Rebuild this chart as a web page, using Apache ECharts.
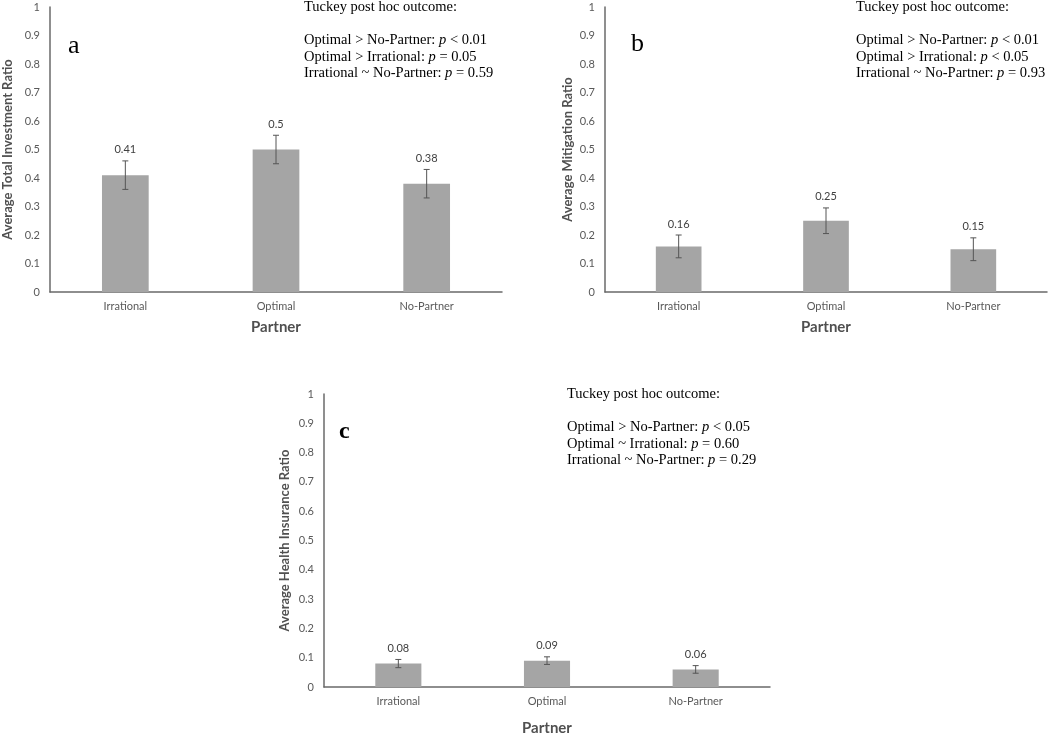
<!DOCTYPE html>
<html><head><meta charset="utf-8">
<script src="https://cdn.jsdelivr.net/npm/echarts@6/dist/echarts.min.js"></script>
<style>html,body{margin:0;padding:0;background:#fff}#c{width:1052px;height:737px}</style>
</head><body><div id="c"></div>
<script>
const categories = ['Irrational', 'Optimal', 'No-Partner'];
const investMeans = [0.41, 0.50, 0.38];
const investErr   = [0.05, 0.05, 0.05];
const mitigMeans  = [0.16, 0.25, 0.15];
const mitigErr    = [0.04, 0.045, 0.04];
const healthMeans = [0.08, 0.09, 0.06];
const healthErr   = [0.014, 0.013, 0.013];
const yTitles = ['Average Total Investment Ratio', 'Average Mitigation Ratio', 'Average Health Insurance Ratio'];
const xTitle = 'Partner';
const panelLetters = ['a', 'b', 'c'];
const notesA = ['Optimal > No-Partner: |p| < 0.01', 'Optimal > Irrational: |p| = 0.05', 'Irrational ~ No-Partner: |p| = 0.59'];
const notesB = ['Optimal > No-Partner: |p| < 0.01', 'Optimal > Irrational: |p| < 0.05', 'Irrational ~ No-Partner: |p| = 0.93'];
const notesC = ['Optimal > No-Partner: |p| < 0.05', 'Optimal ~ Irrational: |p| = 0.60', 'Irrational ~ No-Partner: |p| = 0.29'];
const noteHead = 'Tuckey post hoc outcome:';

const chart = echarts.init(document.getElementById('c'));
const grids = [
  {left: 48, top: 7, width: 454, height: 285},
  {left: 605, top: 7, width: 442, height: 285},
  {left: 324, top: 394, width: 446, height: 299}
];
const xNameGaps = [28, 28, 34];
const yNameGaps = [36, 31, 33];
const sans = 'Lato, "Open Sans", sans-serif';
const serif = '"Liberation Serif", "DejaVu Serif", serif';
const means = [investMeans, mitigMeans, healthMeans];
const errs = [investErr, mitigErr, healthErr];

const xAxes = grids.map((g, i) => ({
  type: 'category', gridIndex: i, data: categories,
  axisLine: {lineStyle: {color: '#6a6a6a', width: 1.5}},
  axisTick: {show: false},
  axisLabel: {color: '#595959', fontSize: 11, fontFamily: sans, margin: 9},
  name: xTitle, nameLocation: 'middle', nameGap: xNameGaps[i],
  nameTextStyle: {color: '#505050', fontSize: 15, fontWeight: 'bold', fontFamily: sans}
}));
const yAxes = grids.map((g, i) => ({
  type: 'value', gridIndex: i, min: 0, max: 1, interval: 0.1,
  axisLine: {show: true, lineStyle: {color: '#6a6a6a', width: 1.5}},
  axisTick: {show: false}, splitLine: {show: false},
  axisLabel: {color: '#595959', fontSize: 11, fontFamily: sans, margin: 10},
  name: yTitles[i], nameLocation: 'middle', nameGap: yNameGaps[i],
  nameTextStyle: {color: '#505050', fontSize: 13, fontWeight: 'bold', fontFamily: sans}
}));

const series = [];
grids.forEach((g, i) => {
  series.push({
    type: 'bar', xAxisIndex: i, yAxisIndex: i, data: means[i],
    barWidth: '31%', itemStyle: {color: '#a5a5a5'}, silent: true
  });
  series.push({
    type: 'custom', xAxisIndex: i, yAxisIndex: i, z: 5,
    data: means[i].map((m, k) => [k, m, m - errs[i][k], m + errs[i][k]]),
    renderItem: function (params, api) {
      const lo = api.coord([api.value(0), api.value(2)]);
      const hi = api.coord([api.value(0), api.value(3)]);
      const x = lo[0];
      const st = {stroke: '#555', lineWidth: 1};
      return {type: 'group', children: [
        {type: 'line', shape: {x1: x, y1: lo[1], x2: x, y2: hi[1]}, style: st},
        {type: 'line', shape: {x1: x - 3, y1: lo[1], x2: x + 3, y2: lo[1]}, style: st},
        {type: 'line', shape: {x1: x - 3, y1: hi[1], x2: x + 3, y2: hi[1]}, style: st},
        {type: 'text', x: x, y: hi[1] - 11, style: {text: String(api.value(1)), fill: '#404040',
          font: '11px ' + sans, align: 'center', verticalAlign: 'middle'}}
      ]};
    }
  });
});

function noteText(lines) {
  return [noteHead, ''].concat(lines.map(l => {
    const p = l.split('|');
    return '{n|' + p[0] + '}{i|' + p[1] + '}{n|' + p[2] + '}';
  })).map(s => s.startsWith('{') ? s : '{n|' + s + '}').join('\n');
}
const rich = {
  n: {fontFamily: serif, fontSize: 14.5, fill: '#000', lineHeight: 16.5},
  i: {fontFamily: serif, fontSize: 14.5, fontStyle: 'italic', fill: '#000', lineHeight: 16.5}
};
const graphic = [
  {type: 'text', left: 304, top: 0, style: {text: noteText(notesA), rich: rich}},
  {type: 'text', left: 856, top: 0, style: {text: noteText(notesB), rich: rich}},
  {type: 'text', left: 567, top: 387, style: {text: noteText(notesC), rich: rich}},
  {type: 'text', left: 68, top: 33, style: {text: panelLetters[0], font: '26px ' + serif, fill: '#000'}},
  {type: 'text', left: 631, top: 31, style: {text: panelLetters[1], font: '26px ' + serif, fill: '#000'}},
  {type: 'text', left: 339, top: 420, style: {text: panelLetters[2], font: 'bold 24px ' + serif, fill: '#000'}}
];

chart.setOption({
  animation: false,
  grid: grids.map(g => Object.assign({containLabel: false}, g)),
  xAxis: xAxes, yAxis: yAxes, series: series, graphic: graphic
});
</script></body></html>
